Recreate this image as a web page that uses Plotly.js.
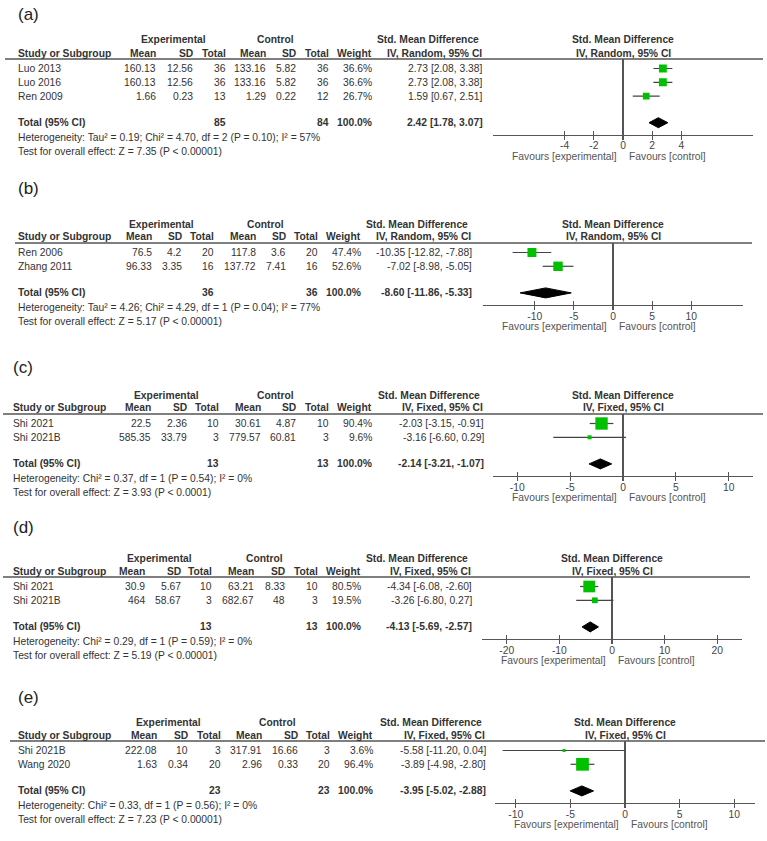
<!DOCTYPE html>
<html><head><meta charset="utf-8">
<script src="https://cdn.plot.ly/plotly-3.0.1.min.js"></script>
<style>html,body{margin:0;padding:0;background:#fff}#chart{width:767px;height:841px}</style>
</head><body><div id="chart"></div>
<script>
// ================= DATA =================
// (a)
const studiesA = ["Luo 2013", "Luo 2016", "Ren 2009"];
const expMeanA = [160.13, 160.13, 1.66];
const expSdA = [12.56, 12.56, 0.23];
const expNA = [36, 36, 13];
const ctlMeanA = [133.16, 133.16, 1.29];
const ctlSdA = [5.82, 5.82, 0.22];
const ctlNA = [36, 36, 12];
const weightA = [36.6, 36.6, 26.7];
const smdA = [2.73, 2.73, 1.59];
const lowA = [2.08, 2.08, 0.67];
const highA = [3.38, 3.38, 2.51];
const totalA = [2.42, 1.78, 3.07];
const hetA = "Heterogeneity: Tau² = 0.19; Chi² = 4.70, df = 2 (P = 0.10); I² = 57%";
const testA = "Test for overall effect: Z = 7.35 (P &lt; 0.00001)";
const ticksA = [-4, -2, 0, 2, 4];
const modelA = "Random";
// (b)
const studiesB = ["Ren 2006", "Zhang 2011"];
const expMeanB = [76.5, 96.33];
const expSdB = [4.2, 3.35];
const expNB = [20, 16];
const ctlMeanB = [117.8, 137.72];
const ctlSdB = [3.6, 7.41];
const ctlNB = [20, 16];
const weightB = [47.4, 52.6];
const smdB = [-10.35, -7.02];
const lowB = [-12.82, -8.98];
const highB = [-7.88, -5.05];
const totalB = [-8.60, -11.86, -5.33];
const hetB = "Heterogeneity: Tau² = 4.26; Chi² = 4.29, df = 1 (P = 0.04); I² = 77%";
const testB = "Test for overall effect: Z = 5.17 (P &lt; 0.00001)";
const ticksB = [-10, -5, 0, 5, 10];
const modelB = "Random";
// (c)
const studiesC = ["Shi 2021", "Shi 2021B"];
const expMeanC = [22.5, 585.35];
const expSdC = [2.36, 33.79];
const expNC = [10, 3];
const ctlMeanC = [30.61, 779.57];
const ctlSdC = [4.87, 60.81];
const ctlNC = [10, 3];
const weightC = [90.4, 9.6];
const smdC = [-2.03, -3.16];
const lowC = [-3.15, -6.60];
const highC = [-0.91, 0.29];
const totalC = [-2.14, -3.21, -1.07];
const hetC = "Heterogeneity: Chi² = 0.37, df = 1 (P = 0.54); I² = 0%";
const testC = "Test for overall effect: Z = 3.93 (P &lt; 0.0001)";
const ticksC = [-10, -5, 0, 5, 10];
const modelC = "Fixed";
// (d)
const studiesD = ["Shi 2021", "Shi 2021B"];
const expMeanD = [30.9, 464];
const expSdD = [5.67, 58.67];
const expND = [10, 3];
const ctlMeanD = [63.21, 682.67];
const ctlSdD = [8.33, 48];
const ctlND = [10, 3];
const weightD = [80.5, 19.5];
const smdD = [-4.34, -3.26];
const lowD = [-6.08, -6.80];
const highD = [-2.60, 0.27];
const totalD = [-4.13, -5.69, -2.57];
const hetD = "Heterogeneity: Chi² = 0.29, df = 1 (P = 0.59); I² = 0%";
const testD = "Test for overall effect: Z = 5.19 (P &lt; 0.00001)";
const ticksD = [-20, -10, 0, 10, 20];
const modelD = "Fixed";
// (e)
const studiesE = ["Shi 2021B", "Wang 2020"];
const expMeanE = [222.08, 1.63];
const expSdE = [10, 0.34];
const expNE = [3, 20];
const ctlMeanE = [317.91, 2.96];
const ctlSdE = [16.66, 0.33];
const ctlNE = [3, 20];
const weightE = [3.6, 96.4];
const smdE = [-5.58, -3.89];
const lowE = [-11.20, -4.98];
const highE = [0.04, -2.80];
const totalE = [-3.95, -5.02, -2.88];
const hetE = "Heterogeneity: Chi² = 0.33, df = 1 (P = 0.56); I² = 0%";
const testE = "Test for overall effect: Z = 7.23 (P &lt; 0.00001)";
const ticksE = [-10, -5, 0, 5, 10];
const modelE = "Fixed";
const totalWeight = 100.0;

// ================= BUILD =================
const panels = [
  {label:"(a)", studies:studiesA, em:expMeanA, es:expSdA, en:expNA, cm:ctlMeanA, cs:ctlSdA, cn:ctlNA, w:weightA, smd:smdA, lo:lowA, hi:highA, tot:totalA, het:hetA, test:testA, ticks:ticksA, model:modelA},
  {label:"(b)", studies:studiesB, em:expMeanB, es:expSdB, en:expNB, cm:ctlMeanB, cs:ctlSdB, cn:ctlNB, w:weightB, smd:smdB, lo:lowB, hi:highB, tot:totalB, het:hetB, test:testB, ticks:ticksB, model:modelB},
  {label:"(c)", studies:studiesC, em:expMeanC, es:expSdC, en:expNC, cm:ctlMeanC, cs:ctlSdC, cn:ctlNC, w:weightC, smd:smdC, lo:lowC, hi:highC, tot:totalC, het:hetC, test:testC, ticks:ticksC, model:modelC},
  {label:"(d)", studies:studiesD, em:expMeanD, es:expSdD, en:expND, cm:ctlMeanD, cs:ctlSdD, cn:ctlND, w:weightD, smd:smdD, lo:lowD, hi:highD, tot:totalD, het:hetD, test:testD, ticks:ticksD, model:modelD},
  {label:"(e)", studies:studiesE, em:expMeanE, es:expSdE, en:expNE, cm:ctlMeanE, cs:ctlSdE, cn:ctlNE, w:weightE, smd:smdE, lo:lowE, hi:highE, tot:totalE, het:hetE, test:testE, ticks:ticksE, model:modelE}
];

// layout geometry (pixels)
const geo = [
  {line:59,  label:15,  cols:[157,194,227,267,297,330,373,484], sx:17, lx0:5,  lx1:763, fx0:493, fx1:753, R:8.9},
  {line:243, label:188, cols:[153,183,215,257,287,319,362,473], sx:17, lx0:15, lx1:752, fx0:483, fx1:743, R:16.6},
  {line:414, label:367, cols:[152,188,220,262,297,330,373,485], sx:12, lx0:3,  lx1:763, fx0:493, fx1:753, R:12.3},
  {line:577, label:527, cols:[146,182,213,255,286,319,362,473], sx:12, lx0:3,  lx1:750, fx0:482, fx1:742, R:24.7},
  {line:741, label:697, cols:[158,189,222,263,299,331,374,487], sx:17, lx0:10, lx1:765, fx0:495, fx1:755, R:11.9}
];

const W = 767, H = 841;
const FONT = "Liberation Sans, Arial, sans-serif";
const TXT = "#333";
const LINE = "#555";
const GREEN = "#00c000";
const FS = 10.3;
const FIRST = 9.5, ROW = 13.8;

const px = v => v / W;
const py = v => 1 - v / H;
const traces = [], annotations = [], shapes = [];
const layout = {width:W, height:H, margin:{l:0,r:0,t:0,b:0}, showlegend:false,
  paper_bgcolor:"#fff", plot_bgcolor:"rgba(0,0,0,0)", hovermode:false};

function ann(x, y, text, anchor, extra) {
  const a = {xref:"paper", yref:"paper", x:px(x), y:py(y), text:text, xanchor:anchor, yanchor:"middle",
    showarrow:false, borderpad:0, font:{family:FONT, size:FS, color:TXT}};
  if (extra) Object.assign(a, extra);
  annotations.push(a);
}
const b = s => "<b>" + s + "</b>";
const f2 = v => v.toFixed(2);
const ci = (e, l, h) => f2(e) + " [" + f2(l) + ", " + f2(h) + "]";
const sum = arr => arr.reduce((s, v) => s + v, 0);

panels.forEach((p, k) => {
  const g = geo[k];
  const n = p.studies.length;
  const sfx = k === 0 ? "" : String(k + 1);
  const osfx = String(k + 6);
  const rowOff = i => FIRST + i * ROW;
  const totOff = FIRST + (n + 1) * ROW - 1;
  const axOff = totOff + 12;
  const zx = (g.fx0 + g.fx1) / 2;
  const c = g.cols;

  layout["xaxis" + sfx] = {domain:[px(g.fx0), px(g.fx1)], range:[-g.R, g.R], anchor:"y" + sfx,
    tickvals:p.ticks, ticktext:p.ticks.map(String), showgrid:false,
    zeroline:true, zerolinecolor:LINE, zerolinewidth:1.2,
    showline:true, linecolor:LINE, linewidth:1.3, ticks:"outside", ticklen:4, tickwidth:1.3, tickcolor:LINE,
    ticklabelstandoff:-3,
    tickfont:{family:FONT, size:FS, color:"#444"}, fixedrange:true};
  // overlay axis to draw the upper half of the crossing tick marks
  layout["xaxis" + osfx] = {overlaying:"x" + sfx, anchor:"y" + sfx, range:[-g.R, g.R],
    tickvals:p.ticks, showticklabels:false, ticks:"inside", ticklen:4, tickwidth:1.3, tickcolor:LINE,
    showline:false, showgrid:false, zeroline:false, fixedrange:true};
  layout["yaxis" + sfx] = {domain:[py(g.line + axOff), py(g.line)], range:[axOff, 0], visible:false,
    showgrid:false, zeroline:false, fixedrange:true};
  traces.push({type:"scatter", mode:"markers", xaxis:"x" + osfx, yaxis:"y" + sfx, x:[null], y:[null],
    hoverinfo:"skip"});

  // study markers with CIs
  traces.push({type:"scatter", mode:"markers", xaxis:"x" + sfx, yaxis:"y" + sfx,
    x:p.smd, y:p.studies.map((_, i) => rowOff(i)),
    marker:{symbol:"square", color:GREEN, opacity:1, size:p.w.map(w => Math.max(3, 13 * Math.sqrt(w / 100))), line:{width:0}},
    error_x:{type:"data", symmetric:false, array:p.hi.map((h, i) => h - p.smd[i]),
      arrayminus:p.lo.map((l, i) => p.smd[i] - l), color:"#444", thickness:1.2, width:0},
    hoverinfo:"skip"});
  // pooled diamond
  const [e, l, h] = p.tot;
  traces.push({type:"scatter", mode:"lines", xaxis:"x" + sfx, yaxis:"y" + sfx,
    x:[l, e, h, e, l], y:[totOff, totOff - 5, totOff, totOff + 5, totOff],
    fill:"toself", fillcolor:"#000", line:{color:"#000", width:1}, hoverinfo:"skip"});

  // header line
  shapes.push({type:"line", xref:"paper", yref:"paper", x0:px(g.lx0), x1:px(g.lx1), y0:py(g.line), y1:py(g.line),
    line:{color:LINE, width:1.3}});

  // panel label
  ann(g.sx, g.label, p.label, "left", {font:{family:FONT, size:17, color:"#222"}});

  // header rows
  const h1 = g.line - 19, h2 = g.line - 6;
  ann(c[2] - 20, h1, b("Experimental"), "right");
  ann(c[4] - 2, h1, b("Control"), "right");
  ann(c[7] - 4, h1, b("Std. Mean Difference"), "right");
  ann(zx, h1, b("Std. Mean Difference"), "center");
  ann(g.sx, h2, b("Study or Subgroup"), "left");
  ["Mean", "SD", "Total", "Mean", "SD", "Total", "Weight"].forEach((t, j) => ann(c[j], h2, b(t), "right"));
  ann(c[7] - 1, h2, b("IV, " + p.model + ", 95% CI"), "right");
  ann(zx, h2, b("IV, " + p.model + ", 95% CI"), "center");

  // study rows
  p.studies.forEach((s, i) => {
    const y = g.line + rowOff(i);
    ann(g.sx, y, s, "left");
    const vals = [String(p.em[i]), String(p.es[i]), String(p.en[i]), String(p.cm[i]), String(p.cs[i]),
      String(p.cn[i]), p.w[i].toFixed(1) + "%", ci(p.smd[i], p.lo[i], p.hi[i])];
    vals.forEach((v, j) => ann(c[j], y, v, "right"));
  });

  // total row
  const ty = g.line + totOff;
  ann(g.sx, ty, b("Total (95% CI)"), "left");
  ann(c[2], ty, b(String(sum(p.en))), "right");
  ann(c[5], ty, b(String(sum(p.cn))), "right");
  ann(c[6], ty, b(totalWeight.toFixed(1) + "%"), "right");
  ann(c[7], ty, b(ci(e, l, h)), "right");
  ann(g.sx, ty + 15, p.het, "left");
  ann(g.sx, ty + 29, p.test, "left");

  // favours labels
  const fy = g.line + axOff + 22;
  ann(zx - 5, fy, "Favours [experimental]", "right", {font:{family:FONT, size:FS, color:"#555"}});
  ann(zx + 5, fy, "Favours [control]", "left", {font:{family:FONT, size:FS, color:"#555"}});
});

layout.annotations = annotations;
layout.shapes = shapes;
Plotly.newPlot("chart", traces, layout, {staticPlot:true, displayModeBar:false});
</script>
</body></html>
